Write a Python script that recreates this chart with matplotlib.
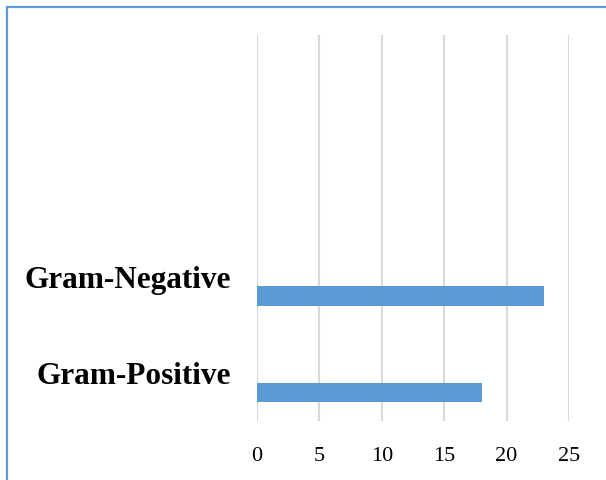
import matplotlib
matplotlib.use("Agg")
import matplotlib.pyplot as plt
from matplotlib.patches import Rectangle

categories = ["Gram-Positive", "Gram-Negative"]
values = [18, 23]
x_ticks = [0, 5, 10, 15, 20, 25]

W, H = 606, 480
fig = plt.figure(figsize=(W / 100, H / 100), dpi=100)
fig.patch.set_facecolor("white")

# plot area in pixel terms
left_px, right_px, top_px, bottom_px = 257, 569, 35, 421
ax = fig.add_axes([left_px / W, 1 - bottom_px / H,
                   (right_px - left_px) / W, (bottom_px - top_px) / H])

pos = list(range(len(categories)))
ax.barh(pos, values, height=0.2, color="#5b9bd5", zorder=3)

ax.set_xlim(0, 25)
ax.set_ylim(-0.295, 3.705)
ax.set_xticks(x_ticks)
ax.set_xticklabels([str(t) for t in x_ticks], fontfamily="Liberation Serif", fontsize=16)
ax.set_yticks([p + 0.2 for p in pos])
ax.set_yticklabels(categories, fontfamily="Liberation Serif", fontweight="bold", fontsize=22.5)

ax.tick_params(axis="both", length=0)
ax.tick_params(axis="x", pad=19)
ax.tick_params(axis="y", pad=19)
ax.grid(axis="x", color="#d9d9d9", linewidth=1.5, zorder=0)
ax.set_axisbelow(True)
for s in ax.spines.values():
    s.set_visible(False)

# outer frame of the chart (only top and left edges fall inside the image)
fig.patches.append(Rectangle((6.5 / W, -0.1), 1.2, 1 - 6.5 / H + 0.1,
                             transform=fig.transFigure, fill=False,
                             edgecolor="#5b9bd5", linewidth=1.6))

fig.savefig("out.png", dpi=100)
